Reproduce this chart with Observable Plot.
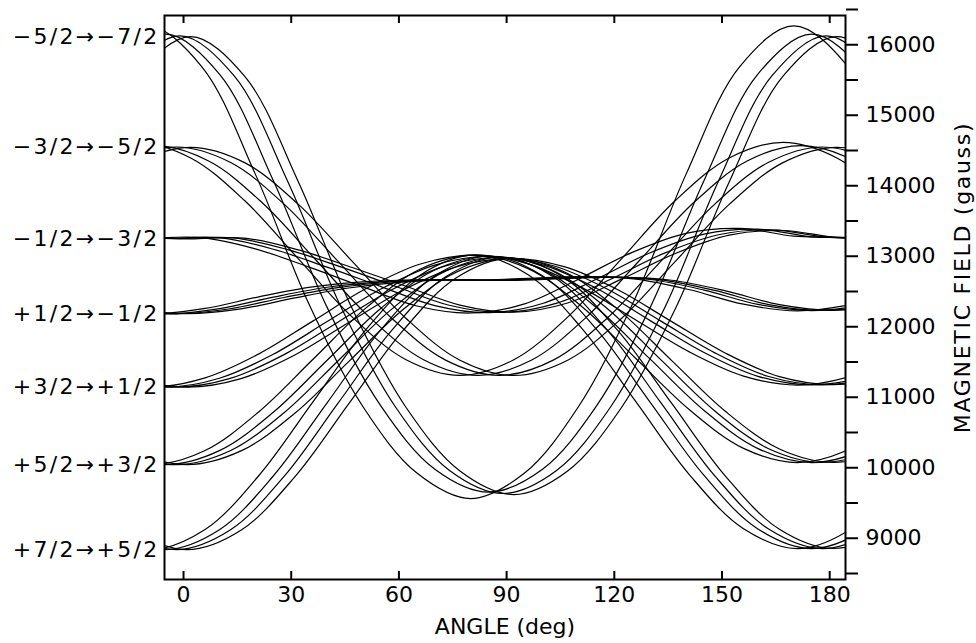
<!DOCTYPE html>
<html><head><meta charset="utf-8">
<script src="https://cdn.jsdelivr.net/npm/d3@7"></script>
<script src="https://cdn.jsdelivr.net/npm/@observablehq/plot@0.6"></script>
<style>body{margin:0;background:#fff}</style>
</head><body><div id="chart"></div>
<script>
// Transition labels (left) and their field at 0 deg
const transitionLabels = ["−5/2→−7/2","−3/2→−5/2","−1/2→−3/2","+1/2→−1/2","+3/2→+1/2","+5/2→+3/2","+7/2→+5/2"];
const transitionFields = [16200, 14630, 13335, 12269, 11229, 10129, 8925];
const angleTicks = [0, 30, 60, 90, 120, 150, 180];
const fieldTicks = [8500,9000,9500,10000,10500,11000,11500,12000,12500,13000,13500,14000,14500,15000,15500,16000,16500];
const fieldLabels = ["","9000","","10000","","11000","","12000","","13000","","14000","","15000","","16000",""];
const xTitle = "ANGLE (deg)";
const yTitle = "MAGNETIC FIELD (gauss)";

// angle samples for each site curve (deg)
const g1Angle = [
 [-40,-25,-10,5,20,35,50,65,80,95,110,125,140,155,170,185,200],
 [-35,-20,-5,10,25,40,55,70,85,100,115,130,145,160,175,190,205],
 [-31,-16,-1,14,29,44,59,74,89,104,119,134,149,164,179,194,209],
 [-28,-13,2,17,32,47,62,77,92,107,122,137,152,167,182,197,212]];
const g1Field = [
 [14250,15780,16354,15780,14250,12400,10950,10010,9648,10010,10950,12400,14250,15780,16354,15780,14250],
 [14160,15670,16236,15670,14160,12360,10960,10065,9740,10065,10960,12360,14160,15670,16236,15670,14160],
 [14150,15650,16210,15650,14150,12350,10950,10050,9720,10050,10950,12350,14150,15650,16210,15650,14150],
 [14140,15640,16201,15640,14140,12340,10940,10040,9705,10040,10940,12340,14140,15640,16201,15640,14140]];

const g2Angle = [
 [-43,-28,-13,2,17,32,47,62,77,92,107,122,137,152,167,182,197],
 [-38,-23,-8,7,22,37,52,67,82,97,112,127,142,157,172,187,202],
 [-32,-17,-2,13,28,43,58,73,88,103,118,133,148,163,178,193,208],
 [-28,-13,2,17,32,47,62,77,92,107,122,137,152,167,182,197,212]];
const g2Field = [
 [13875,14480,14701,14480,13875,13048,12222,11617,11395,11617,12222,13048,13875,14480,14701,14480,13875],
 [13840,14436,14654,14436,13840,13025,12211,11614,11396,11614,12211,13025,13840,14436,14654,14436,13840],
 [13825,14418,14635,14418,13825,13015,12205,11612,11395,11612,12205,13015,13825,14418,14635,14418,13825],
 [13821,14413,14630,14413,13821,13012,12203,11611,11394,11611,12203,13012,13821,14413,14630,14413,13821]];

const g3Angle = [
 [-40,-25,-10,5,20,35,50,65,80,95,110,125,140,155,170,185,200],
 [-35,-20,-5,10,25,40,55,70,85,100,115,130,145,160,175,190,205],
 [-31,-16,-1,14,29,44,59,74,89,104,119,134,149,164,179,194,209],
 [-28,-13,2,17,32,47,62,77,92,107,122,137,152,167,182,197,212]];
const g3Field = [
 [13150,13330,13340,13350,13190,12930,12650,12380,12280,12410,12760,13140,13410,13480,13370,13340,13150],
 [13150,13330,13338,13348,13185,12930,12655,12385,12285,12415,12760,13135,13400,13470,13360,13335,13150],
 [13150,13330,13335,13345,13180,12930,12660,12390,12290,12420,12760,13130,13390,13460,13355,13330,13150],
 [13150,13330,13332,13342,13175,12925,12660,12392,12292,12422,12760,13125,13385,13450,13350,13328,13150]];

const lowAngle = [
 [-39,-24,-9,6,21,36,51,66,81,96,111,126,141,156,171,186,201],
 [-35,-20,-5,10,25,40,55,70,85,100,115,130,145,160,175,190,205],
 [-32,-17,-2,13,28,43,58,73,88,103,118,133,148,163,178,193,208],
 [-29,-14,1,16,31,46,61,76,91,106,121,136,151,166,181,196,211]];
const g4Field = [
 [12500,12340,12265,12345,12510,12650,12725,12752,12748,12772,12795,12760,12610,12405,12310,12400,12600],
 [12500,12340,12268,12342,12505,12645,12722,12751,12746,12771,12792,12755,12605,12402,12314,12400,12600],
 [12500,12340,12269,12340,12500,12640,12720,12750,12745,12770,12790,12750,12600,12400,12316,12400,12600],
 [12500,12340,12271,12338,12495,12635,12718,12748,12744,12768,12788,12745,12595,12398,12318,12400,12600]];
const g5Field = [
 [11700,11360,11229,11360,11700,12165,12630,12975,13100,12978,12640,12180,11725,11385,11258,11385,11725],
 [11695,11355,11229,11355,11695,12158,12620,12960,13085,12963,12630,12172,11720,11382,11260,11382,11720],
 [11690,11352,11229,11352,11690,12150,12610,12948,13071,12950,12620,12165,11715,11380,11262,11380,11715],
 [11685,11350,11229,11350,11685,12145,12600,12935,13055,12938,12610,12158,11710,11378,11265,11378,11710]];
const g6Field = [
 [10880,10330,10129,10330,10880,11620,12360,12905,13100,12910,12370,11635,10905,10360,10158,10360,10905],
 [10872,10328,10129,10328,10872,11610,12348,12890,13085,12895,12358,11625,10898,10357,10159,10357,10898],
 [10865,10326,10129,10326,10865,11600,12335,12874,13071,12880,12345,11615,10890,10355,10160,10355,10890],
 [10858,10324,10129,10324,10858,11590,12322,12860,13055,12865,12332,11605,10882,10352,10162,10352,10882]];
const g7Field = [
 [9975,9208,8925,9208,9975,11015,12055,12820,13100,12822,12060,11022,9982,9220,8939,9220,9982],
 [9968,9205,8925,9205,9968,11006,12045,12806,13085,12808,12050,11013,9976,9217,8939,9217,9976],
 [9962,9203,8925,9203,9962,10998,12034,12793,13071,12795,12040,11005,9970,9215,8939,9215,9970],
 [9956,9200,8925,9200,9956,10990,12023,12780,13055,12782,12030,10997,9964,9212,8940,9212,9964]];

const groups = [[g1Angle,g1Field],[g2Angle,g2Field],[g3Angle,g3Field],[lowAngle,g4Field],[lowAngle,g5Field],[lowAngle,g6Field],[lowAngle,g7Field]];
const rows = [];
groups.forEach(([A, F], g) => A.forEach((arr, s) => arr.forEach((a, i) => rows.push({angle: a, field: F[s][i], id: g * 4 + s}))));

const font = "'DejaVu Sans', 'Liberation Sans', sans-serif";
const svg = Plot.plot({
  width: 976, height: 643,
  marginLeft: 164, marginRight: 131, marginTop: 15, marginBottom: 64,
  style: {fontFamily: font, color: "#000", background: "#fff"},
  x: {domain: [-5.3, 184.4], axis: null},
  y: {domain: [8500, 16500], axis: null},
  marks: [
    Plot.line(rows, {x: "angle", y: "field", z: "id", curve: "catmull-rom", stroke: "#000", strokeWidth: 1.2, clip: true}),
    Plot.frame({stroke: "#000", strokeWidth: 2}),
    Plot.tickX(angleTicks, {x: d => d, insetTop: 556, stroke: "#000", strokeWidth: 2}),
    Plot.tickX(angleTicks, {x: d => d, insetBottom: 556, stroke: "#000", strokeWidth: 2}),
    Plot.axisX(angleTicks, {anchor: "bottom", tickSize: 0, tickPadding: 7, fontSize: 22, label: null}),
    Plot.axisY(fieldTicks, {anchor: "right", tickSize: 12, tickPadding: 8, strokeWidth: 2, fontSize: 22, dy: -6, label: null,
      tickFormat: (d, i) => fieldLabels[i]}),
    Plot.text(transitionLabels, {y: (d, i) => transitionFields[i], frameAnchor: "left", textAnchor: "end", dx: -5, fontSize: 22}),
    Plot.text([xTitle], {frameAnchor: "bottom", textAnchor: "middle", dy: 54, fontSize: 22}),
    Plot.text([yTitle], {frameAnchor: "right", textAnchor: "middle", dx: 117, dy: -20, rotate: -90, fontSize: 22})
  ]
});
d3.select(svg).selectAll("text").each(function() {
  const t = this.textContent;
  if (transitionLabels.includes(t)) this.style.letterSpacing = "2.3px";
  if (t === yTitle) this.style.letterSpacing = "1.7px";
});
document.getElementById("chart").appendChild(svg);
</script>
</body></html>
